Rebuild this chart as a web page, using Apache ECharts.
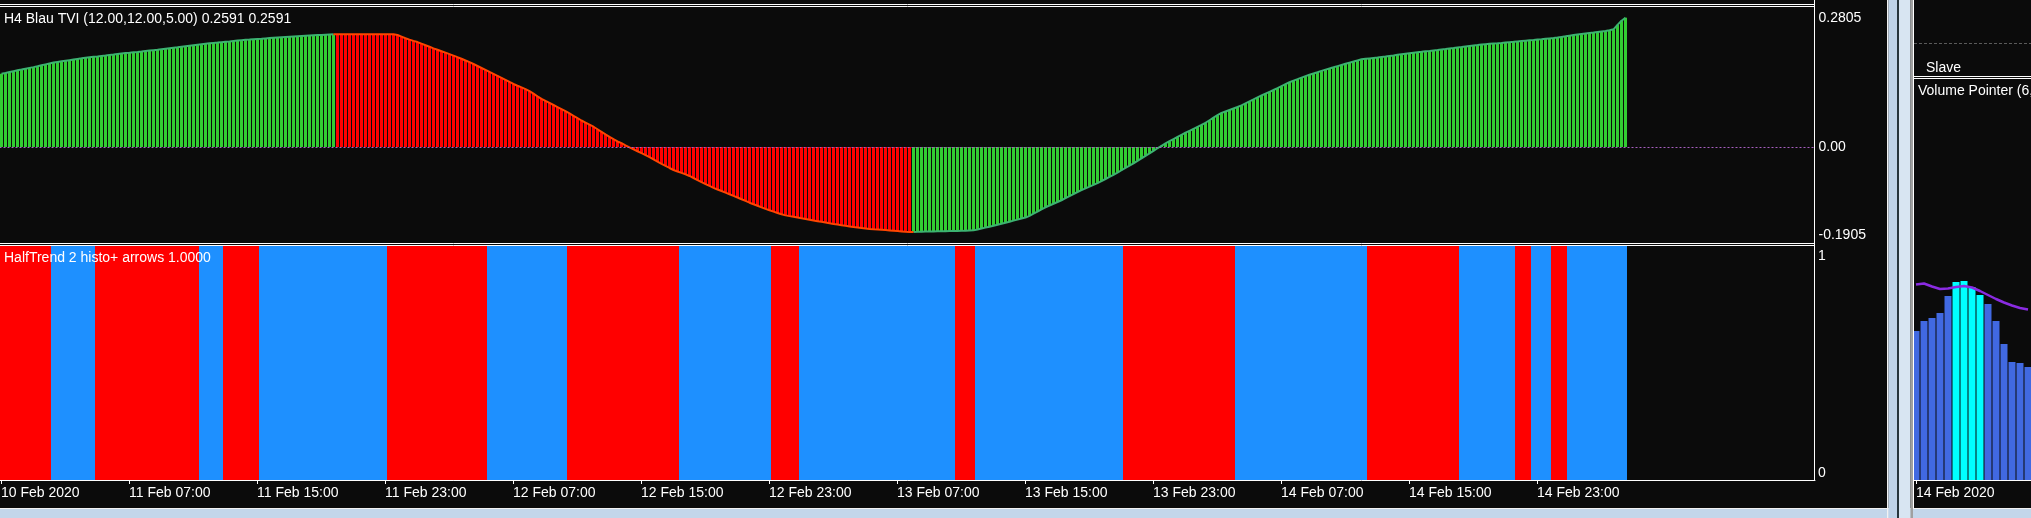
<!DOCTYPE html>
<html><head><meta charset="utf-8">
<script src="https://cdn.jsdelivr.net/npm/echarts@6/dist/echarts.min.js"></script>
<style>html,body{margin:0;padding:0;background:#0b0b0b;overflow:hidden}#c{width:2031px;height:518px}</style>
</head><body><div id="c"></div>
<script>
// ---- data ----
const tviValues = [
0.1589,0.1607,0.1626,0.1645,0.1664,0.1681,0.1699,0.1716,0.1733,0.1752,
0.1772,0.1792,0.1812,0.1831,0.1845,0.1858,0.1871,0.1884,0.1897,0.1910,
0.1923,0.1937,0.1949,0.1957,0.1965,0.1974,0.1983,0.1994,0.2005,0.2017,
0.2029,0.2037,0.2045,0.2054,0.2062,0.2071,0.2081,0.2091,0.2101,0.2111,
0.2122,0.2133,0.2143,0.2153,0.2162,0.2174,0.2186,0.2198,0.2209,0.2219,
0.2229,0.2239,0.2249,0.2257,0.2265,0.2274,0.2282,0.2290,0.2299,0.2308,
0.2317,0.2324,0.2330,0.2337,0.2343,0.2349,0.2356,0.2363,0.2370,0.2377,
0.2383,0.2388,0.2393,0.2398,0.2403,0.2408,0.2413,0.2418,0.2423,0.2428,
0.2432,0.2437,0.2441,0.2445,
0.2445,0.2445,0.2445,0.2445,0.2445,0.2445,0.2445,0.2445,0.2445,0.2445,0.2445,0.2445,0.2445,0.2445,0.2445,
0.2430,0.2395,0.2360,0.2330,0.2302,0.2276,0.2241,0.2208,0.2174,0.2140,
0.2109,0.2078,0.2047,0.2015,0.1983,0.1948,0.1914,0.1877,0.1840,0.1800,
0.1757,0.1714,0.1671,0.1628,0.1586,0.1544,0.1501,0.1456,0.1411,0.1367,
0.1329,0.1292,0.1255,0.1211,0.1156,0.1100,0.1045,0.1000,0.0956,0.0911,
0.0866,0.0821,0.0776,0.0728,0.0676,0.0625,0.0575,0.0530,0.0485,0.0440,
0.0385,0.0330,0.0275,0.0222,0.0170,0.0120,0.0083,0.0035,-0.0010,-0.0051,
-0.0092,-0.0133,-0.0174,-0.0219,-0.0266,-0.0317,-0.0365,-0.0410,-0.0455,-0.0499,
-0.0530,-0.0561,-0.0592,-0.0628,-0.0672,-0.0717,-0.0762,-0.0803,-0.0845,-0.0886,
-0.0921,-0.0955,-0.0989,-0.1024,-0.1059,-0.1096,-0.1133,-0.1170,-0.1208,-0.1242,
-0.1275,-0.1309,-0.1343,-0.1373,-0.1402,-0.1431,-0.1460,-0.1483,-0.1499,-0.1515,
-0.1531,-0.1547,-0.1562,-0.1577,-0.1593,-0.1608,-0.1623,-0.1638,-0.1654,-0.1669,
-0.1683,-0.1697,-0.1710,-0.1722,-0.1735,-0.1745,-0.1755,-0.1765,-0.1776,-0.1784,
-0.1790,-0.1796,-0.1802,-0.1809,-0.1816,-0.1823,-0.1830,-0.1837,-0.1843,
-0.1842,-0.1840,-0.1837,-0.1835,-0.1833,-0.1831,-0.1829,-0.1827,-0.1826,-0.1824,
-0.1823,-0.1822,-0.1819,-0.1815,-0.1811,-0.1808,-0.1790,-0.1769,-0.1748,-0.1729,
-0.1709,-0.1686,-0.1664,-0.1642,-0.1620,-0.1597,-0.1575,-0.1552,-0.1530,-0.1494,
-0.1447,-0.1399,-0.1352,-0.1307,-0.1269,-0.1231,-0.1193,-0.1155,-0.1110,-0.1065,
-0.1021,-0.0976,-0.0935,-0.0897,-0.0859,-0.0821,-0.0783,-0.0740,-0.0694,-0.0648,
-0.0602,-0.0554,-0.0504,-0.0454,-0.0404,-0.0354,-0.0300,-0.0245,-0.0191,-0.0137,
-0.0082,-0.0027,0.0026,0.0077,0.0126,0.0172,0.0218,0.0264,0.0310,0.0352,
0.0394,0.0436,0.0478,0.0526,0.0581,0.0636,0.0690,0.0739,0.0771,0.0803,
0.0835,0.0867,0.0903,0.0946,0.0989,0.1032,0.1077,0.1117,0.1157,0.1197,
0.1236,0.1278,0.1321,0.1363,0.1405,0.1440,0.1472,0.1505,0.1537,0.1568,
0.1596,0.1623,0.1651,0.1678,0.1704,0.1729,0.1755,0.1780,0.1805,0.1829,
0.1853,0.1878,0.1902,0.1912,0.1922,0.1932,0.1942,0.1953,0.1964,0.1976,
0.1987,0.1999,0.2011,0.2023,0.2035,0.2046,0.2056,0.2065,0.2075,0.2084,
0.2094,0.2104,0.2115,0.2125,0.2136,0.2147,0.2159,0.2170,0.2182,0.2192,
0.2202,0.2212,0.2223,0.2231,0.2237,0.2243,0.2249,0.2256,0.2265,0.2274,
0.2282,0.2291,0.2299,0.2307,0.2315,0.2322,0.2330,0.2338,0.2347,0.2355,
0.2363,0.2373,0.2387,0.2400,0.2414,0.2428,0.2440,0.2451,0.2462,0.2473,
0.2483,0.2494,0.2504,0.2514,0.2533,0.2553,0.2650,0.2740,0.2805
];
// runs of TVI colour: up = green, down = red
const tviColorRuns = [['up', 84], ['down', 144], ['up', 179]];
// HalfTrend run lengths, alternating starting with a down (red) run
const halfTrendRuns = [13, 11, 26, 6, 9, 32, 25, 20, 28, 23, 7, 39, 5, 37, 28, 33, 23, 14, 4, 5, 4, 15];
const tickLabels = ['10 Feb 2020','11 Feb 07:00','11 Feb 15:00','11 Feb 23:00','12 Feb 07:00','12 Feb 15:00',
  '12 Feb 23:00','13 Feb 07:00','13 Feb 15:00','13 Feb 23:00','14 Feb 07:00','14 Feb 15:00','14 Feb 23:00'];
const barsPerLabel = 32;
const totalSlots = 454;          // visible bar slots incl. right shift
const yLabelsTVI = [-0.1905, 0, 0.2805];
// Volume Pointer side panel
const volValues = [149, 159, 162, 167, 184, 198, 199, 193, 185, 176, 159, 136, 118, 117, 113];
const volHighlight = [0, 0, 0, 0, 0, 1, 1, 1, 1, 0, 0, 0, 0, 0, 0];
const volSignal = [195.5, 196.5, 193.5, 191, 191.5, 193, 194, 192.5, 189, 185, 181, 177.5, 174.5, 172, 170.5];
const volSlots = 16;
const volDateLabel = '14 Feb 2020';

// ---- build ----
const FONT = '"Liberation Sans", Arial, sans-serif';
const TXT = '#ffffff';
const cats = Array.from({length: totalSlots}, (_, i) => String(i));
const volCats = Array.from({length: volSlots}, (_, i) => String(i));
const tviKind = [];
tviColorRuns.forEach(([k, n]) => { for (let j = 0; j < n; j++) tviKind.push(k); });
const htKind = [];
halfTrendRuns.forEach((n, r) => { for (let j = 0; j < n; j++) htKind.push(r % 2 === 0 ? 'down' : 'up'); });

const tviBars = tviValues.map((v, i) => ({value: v, itemStyle: {color: tviKind[i] === 'up' ? '#32cd32' : '#ff0000'}}));
function lineFor(kind) {
  return tviValues.map((v, i) => {
    const k = tviKind[i];
    const near = (tviKind[i - 1] === kind && kind === 'down') || (tviKind[i + 1] === kind && kind === 'down');
    return (k === kind || near) ? v : '-';
  });
}
const htBars = htKind.map(k => ({value: 1, itemStyle: {color: k === 'down' ? '#ff0000' : '#1e90ff'}}));
const volBars = volValues.map((v, i) => ({value: v, itemStyle: {color: volHighlight[i] ? '#00ffff' : '#4169e1'}}));

const labelShown = (i) => i % barsPerLabel === 0 && (i / barsPerLabel) < tickLabels.length;

const W = (o) => Object.assign({z: 100}, o);
const frame = [
  W({type: 'rect', shape: {x: 0, y: 508, width: 2031, height: 1}, style: {fill: '#f2f2f2'}}),
  W({type: 'rect', shape: {x: 0, y: 509, width: 2031, height: 9}, style: {fill: '#c3d6ea'}}),
  W({type: 'rect', shape: {x: 1887, y: 0, width: 1.5, height: 518}, style: {fill: '#f2f2f2'}}),
  W({type: 'rect', shape: {x: 1888.5, y: 0, width: 8.5, height: 518}, style: {fill: '#bfd3e9'}}),
  W({type: 'rect', shape: {x: 1897, y: 0, width: 2, height: 518}, style: {fill: '#27353d'}}),
  W({type: 'rect', shape: {x: 1899, y: 0, width: 11.5, height: 518}, style: {fill: '#d8e5f2'}}),
  W({type: 'rect', shape: {x: 1910.5, y: 0, width: 2.5, height: 518}, style: {fill: '#a0a0a0'}}),
  W({type: 'rect', shape: {x: 1913, y: 0, width: 1, height: 508}, style: {fill: '#ffffff'}}),
  W({type: 'line', shape: {x1: 0, y1: 4.5, x2: 1815, y2: 4.5}, style: {stroke: '#fff', lineWidth: 1}}),
  W({type: 'line', shape: {x1: 0, y1: 6.5, x2: 1815, y2: 6.5}, style: {stroke: '#fff', lineWidth: 1}}),
  W({type: 'line', shape: {x1: 1814.5, y1: 0, x2: 1814.5, y2: 481}, style: {stroke: '#fff', lineWidth: 1}}),
  W({type: 'line', shape: {x1: 0, y1: 243.5, x2: 1815, y2: 243.5}, style: {stroke: '#fff', lineWidth: 1}}),
  W({type: 'line', shape: {x1: 0, y1: 245.5, x2: 1815, y2: 245.5}, style: {stroke: '#fff', lineWidth: 1}}),
  W({type: 'line', shape: {x1: 1914, y1: 43.5, x2: 2031, y2: 43.5}, style: {stroke: '#5a5a5a', lineWidth: 1, lineDash: [3, 2]}}),
  W({type: 'line', shape: {x1: 1914, y1: 76.5, x2: 2031, y2: 76.5}, style: {stroke: '#fff', lineWidth: 1}}),
  W({type: 'line', shape: {x1: 1914, y1: 78.5, x2: 2031, y2: 78.5}, style: {stroke: '#fff', lineWidth: 1}})
];

const titleStyle = {color: TXT, fontSize: 14, fontWeight: 'normal', fontFamily: FONT};
const option = {
  animation: false,
  backgroundColor: '#0b0b0b',
  title: [
    {text: 'H4 Blau TVI (12.00,12.00,5.00) 0.2591 0.2591', left: 4, top: 12, padding: 0, textStyle: titleStyle},
    {text: 'HalfTrend 2 histo+ arrows 1.0000', left: 4, top: 251, padding: 0, textStyle: titleStyle},
    {text: 'Slave', left: 1926, top: 61, padding: 0, textStyle: titleStyle},
    {text: 'Volume Pointer (6,', left: 1918, top: 84, padding: 0, textStyle: titleStyle}
  ],
  grid: [
    {left: -0.5, top: 8, width: 1816, height: 235, outerBoundsMode: 'none'},
    {left: -1, top: 246, width: 1816, height: 234, outerBoundsMode: 'none'},
    {left: 1912, top: 79, width: 128, height: 401, outerBoundsMode: 'none'}
  ],
  xAxis: [
    {type: 'category', gridIndex: 0, data: cats, show: false},
    {type: 'category', gridIndex: 1, data: cats,
      axisLine: {show: true, lineStyle: {color: '#fff', width: 1}},
      axisTick: {show: true, alignWithLabel: true, interval: labelShown, length: 4, lineStyle: {color: '#fff'}},
      axisLabel: {interval: labelShown, formatter: (v, i) => tickLabels[i / barsPerLabel] || '',
        align: 'left', margin: 6, color: TXT, fontSize: 14, fontFamily: FONT}},
    {type: 'category', gridIndex: 2, data: volCats,
      axisLine: {show: true, lineStyle: {color: '#fff', width: 1}},
      axisTick: {show: true, alignWithLabel: true, interval: (i) => i === 0, length: 4, lineStyle: {color: '#fff'}},
      axisLabel: {interval: (i) => i === 0, formatter: (v, i) => i === 0 ? volDateLabel : '',
        align: 'left', margin: 6, color: TXT, fontSize: 14, fontFamily: FONT}}
  ],
  yAxis: [
    {type: 'value', gridIndex: 0, position: 'right', min: -0.2082, max: 0.3015,
      splitLine: {show: false}, axisLine: {show: false}, axisTick: {show: false},
      axisLabel: {customValues: yLabelsTVI, formatter: (v) => v === 0 ? '0.00' : v.toFixed(4),
        margin: 3, color: TXT, fontSize: 14, fontFamily: FONT}},
    {type: 'value', gridIndex: 1, position: 'right', min: 0, max: 1, interval: 1,
      splitLine: {show: false}, axisLine: {show: false}, axisTick: {show: false},
      axisLabel: {margin: 3, color: TXT, fontSize: 14, fontFamily: FONT, padding: [3, 0, 0, 0],
        verticalAlignMinLabel: 'bottom', verticalAlignMaxLabel: 'top'}},
    {type: 'value', gridIndex: 2, min: 0, max: 401, show: false}
  ],
  series: [
    {type: 'bar', xAxisIndex: 0, yAxisIndex: 0, barWidth: 3, data: tviBars,
      markLine: {silent: true, symbol: ['none', 'none'], label: {show: false},
        lineStyle: {color: '#a65fbf', type: [2, 2], width: 1}, data: [{yAxis: 0}]}},
    {type: 'line', xAxisIndex: 0, yAxisIndex: 0, data: lineFor('up'), showSymbol: false, symbol: 'none',
      lineStyle: {color: '#3cb371', width: 2}, z: 3},
    {type: 'line', xAxisIndex: 0, yAxisIndex: 0, data: lineFor('down'), showSymbol: false, symbol: 'none',
      lineStyle: {color: '#ff4500', width: 2}, z: 4},
    {type: 'bar', xAxisIndex: 1, yAxisIndex: 1, barCategoryGap: '0%', data: htBars},
    {type: 'bar', xAxisIndex: 2, yAxisIndex: 2, barWidth: 7, data: volBars},
    {type: 'line', xAxisIndex: 2, yAxisIndex: 2, data: volSignal, showSymbol: false, symbol: 'none',
      lineStyle: {color: '#8a2be2', width: 2.5}, z: 4}
  ],
  graphic: {elements: frame}
};
const chart = echarts.init(document.getElementById('c'), null, {renderer: 'canvas'});
chart.setOption(option);
</script>
</body></html>
